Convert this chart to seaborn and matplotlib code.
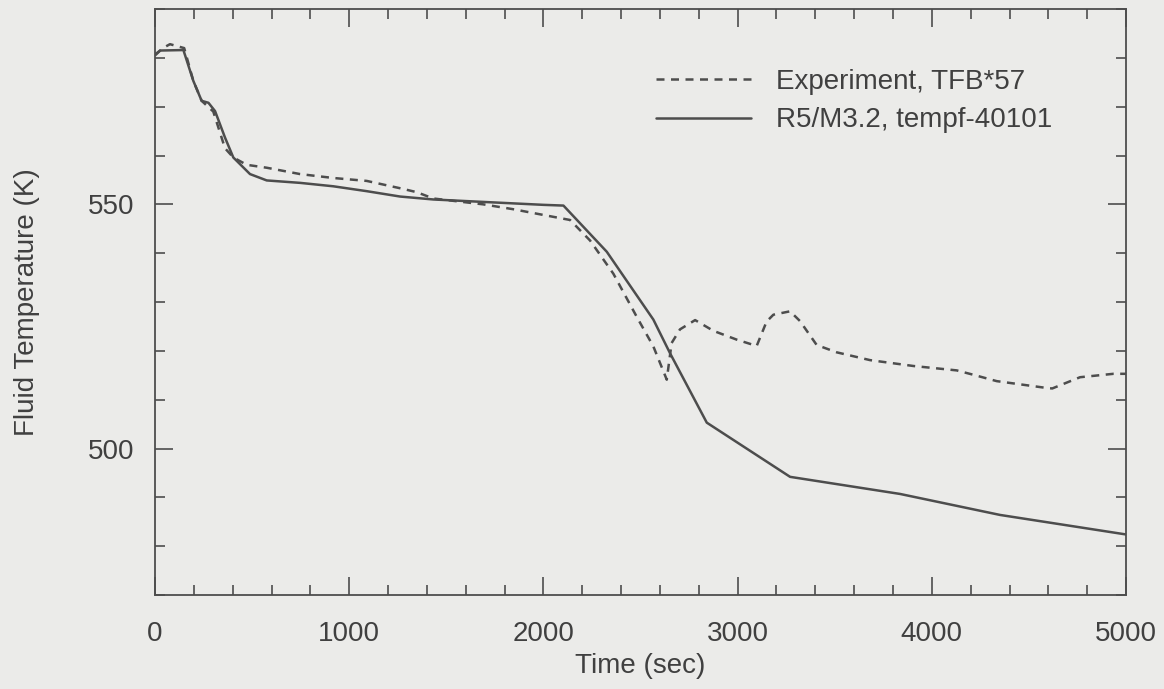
import matplotlib
matplotlib.use("Agg")
import matplotlib.pyplot as plt
import seaborn as sns
import pandas as pd
from matplotlib.ticker import MultipleLocator
from matplotlib.lines import Line2D

# Experiment, TFB*57 (dashed)
exp_time = [0, 40, 77, 150, 197, 240, 300, 360, 403, 472, 575, 747, 918, 1090, 1262, 1347,
            1433, 1690, 1845, 2017, 2137, 2240, 2360, 2480, 2566, 2635, 2660, 2703, 2781,
            2875, 2995, 3098, 3149, 3184, 3270, 3321, 3407, 3510, 3682, 3905, 4128, 4214,
            4334, 4591, 4620, 4763, 4935, 5000]
exp_temp = [580.5, 582.0, 582.8, 582.0, 575.3, 571.2, 569.0, 561.5, 559.6, 558.1, 557.5,
            556.2, 555.4, 554.8, 553.3, 552.5, 551.2, 550.0, 549.0, 547.7, 546.8, 542.6,
            535.8, 527.0, 520.9, 514.1, 521.6, 524.4, 526.3, 524.1, 522.3, 521.0, 526.0,
            527.4, 528.1, 526.1, 521.2, 519.7, 518.1, 516.9, 516.0, 515.1, 513.8, 512.4,
            512.3, 514.6, 515.3, 515.3]

# R5/M3.2, tempf-40101 (solid)
sim_time = [0, 26, 146, 197, 240, 275, 309, 360, 403, 489, 575, 747, 918, 1090, 1262, 1433,
            1690, 2000, 2103, 2326, 2566, 2652, 2841, 3270, 3836, 4351, 5000]
sim_temp = [580.7, 581.5, 581.6, 575.3, 571.2, 570.8, 569.1, 563.7, 559.6, 556.2, 554.9,
            554.4, 553.7, 552.7, 551.6, 551.0, 550.5, 549.9, 549.75, 540.3, 526.4, 519.5,
            505.3, 494.2, 490.7, 486.4, 482.4]

labels = ["Experiment, TFB*57", "R5/M3.2, tempf-40101"]

sns.set_theme(style="ticks")
plt.rcParams['font.family'] = ['Liberation Sans', 'DejaVu Sans']

bg = "#ebebe9"
ink = "#4d4d4d"
txtc = "#404040"
fig = plt.figure(figsize=(11.64, 6.89), dpi=100, facecolor=bg)
ax = fig.add_axes([0.1332, 0.1364, 0.8342, 0.8505])
ax.set_facecolor(bg)

df_exp = pd.DataFrame({"t": exp_time, "T": exp_temp})
df_sim = pd.DataFrame({"t": sim_time, "T": sim_temp})

sns.lineplot(data=df_exp, x="t", y="T", ax=ax, color=ink, lw=1.8,
             estimator=None, sort=False)
ax.lines[-1].set_dashes([3.2, 2.6])
sns.lineplot(data=df_sim, x="t", y="T", ax=ax, color=ink, lw=1.8,
             estimator=None, sort=False)

ax.set_xlim(0, 5000)
ax.set_ylim(470, 590)
ax.xaxis.set_major_locator(MultipleLocator(1000))
ax.xaxis.set_minor_locator(MultipleLocator(200))
ax.yaxis.set_major_locator(MultipleLocator(50))
ax.yaxis.set_minor_locator(MultipleLocator(10))
ax.tick_params(which="both", direction="in", top=True, right=True, colors=ink,
               labelcolor=txtc, labelsize=20, width=1.2)
ax.tick_params(which="major", length=13)
ax.tick_params(which="minor", length=7)
ax.tick_params(axis="x", which="major", pad=19)
ax.tick_params(axis="y", which="major", pad=15)
for s in ax.spines.values():
    s.set_color(ink)
    s.set_linewidth(1.3)

ax.set_xlabel("Time (sec)", fontsize=20, color=txtc, labelpad=4)
ax.set_ylabel("Fluid Temperature (K)", fontsize=20, color=txtc, labelpad=34)

h1 = Line2D([], [], color=ink, lw=1.8, dashes=[3.2, 2.6])
h2 = Line2D([], [], color=ink, lw=1.8)
leg = ax.legend([h1, h2], labels, loc="upper left", bbox_to_anchor=(0.516, 0.898),
                frameon=False, fontsize=20, handlelength=3.4, handletextpad=0.9,
                labelspacing=0.45, borderpad=0, borderaxespad=0)
for txt in leg.get_texts():
    txt.set_color(txtc)

fig.savefig("out.png", dpi=100, facecolor=bg)
